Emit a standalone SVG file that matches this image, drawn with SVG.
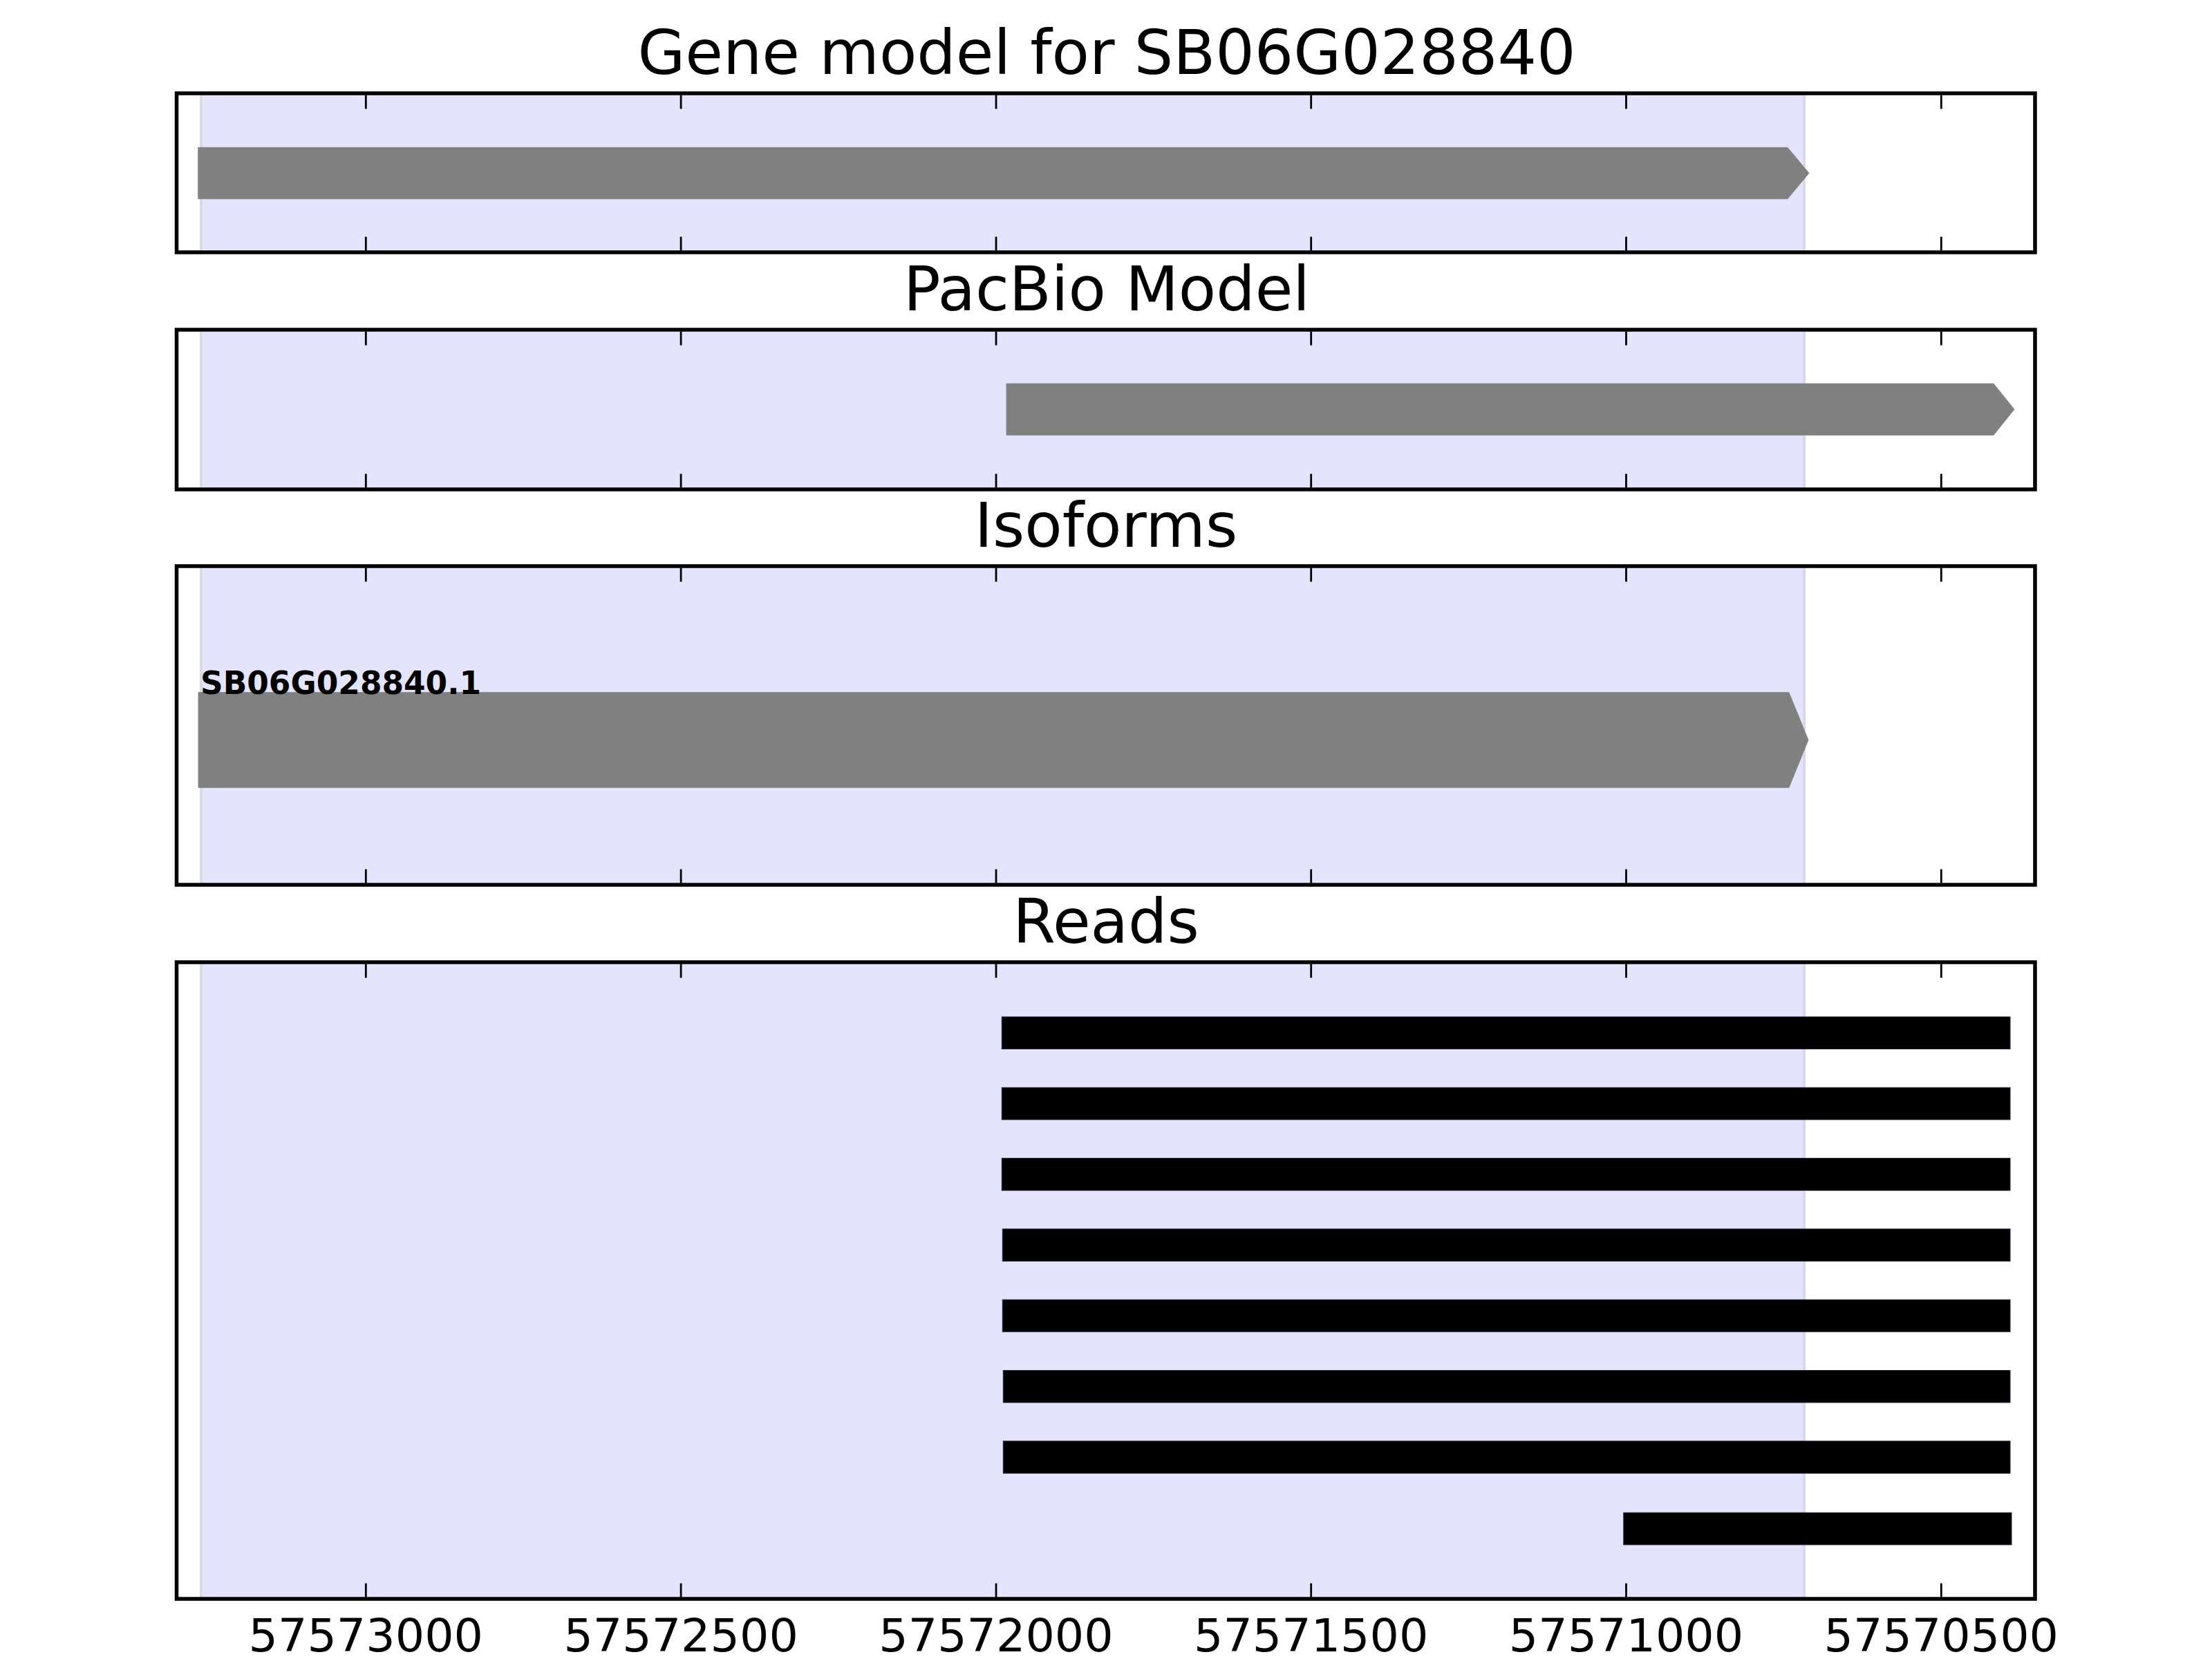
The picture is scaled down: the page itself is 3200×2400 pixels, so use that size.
<svg xmlns="http://www.w3.org/2000/svg" width="3200" height="2400" viewBox="0 0 3200 2400">
<style>
.frame{fill:none;stroke:#000;stroke-width:5.5}
.span{fill:#e4e4fd;stroke:#d8d8ee;stroke-width:4}
.gene{fill:#808080;stroke:#888;stroke-width:1}
.read{fill:#000;stroke:#222236;stroke-width:1}
.tick{stroke:#000;stroke-width:2.8}
.title{font-family:"DejaVu Sans",sans-serif;font-size:88.9px;text-anchor:middle;fill:#000}
.tl{font-family:"DejaVu Sans",sans-serif;font-size:66.7px;text-anchor:middle;fill:#000}
.lbl{font-family:"DejaVu Sans",sans-serif;font-size:45.4px;font-weight:bold;fill:#000}
</style>
<defs>
<g id="ticks">
<line class="tick" x1="529.3" y1="0" x2="529.3" y2="20"/>
<line class="tick" x1="985.1" y1="0" x2="985.1" y2="20"/>
<line class="tick" x1="1441" y1="0" x2="1441" y2="20"/>
<line class="tick" x1="1896.7" y1="0" x2="1896.7" y2="20"/>
<line class="tick" x1="2352.5" y1="0" x2="2352.5" y2="20"/>
<line class="tick" x1="2808.3" y1="0" x2="2808.3" y2="20"/>
</g>
</defs>
<rect width="3200" height="2400" fill="#fff"/>

<g id="panel-gene-model">
<text class="title" x="1601" y="107">Gene model for SB06G028840</text>
<rect class="span" x="291" y="135" width="2319" height="230"/>
<polygon class="gene" points="286.7,213.3 2586,213.3 2617,250.5 2586,287.7 286.7,287.7"/>
<use href="#ticks" transform="translate(0,137.5)"/>
<use href="#ticks" transform="translate(0,362.5) scale(1,-1)"/>
<rect class="frame" x="255.5" y="135" width="2688.5" height="230"/>
</g>

<g id="panel-pacbio">
<text class="title" x="1601" y="449">PacBio Model</text>
<rect class="span" x="291" y="477" width="2319" height="231"/>
<polygon class="gene" points="1456,555 2884,555 2914,592.2 2884,629.5 1456,629.5"/>
<use href="#ticks" transform="translate(0,479.5)"/>
<use href="#ticks" transform="translate(0,705.5) scale(1,-1)"/>
<rect class="frame" x="255.5" y="477" width="2688.5" height="231"/>
</g>

<g id="panel-isoforms">
<text class="title" x="1600" y="791">Isoforms</text>
<rect class="span" x="291" y="819" width="2319" height="461"/>
<polygon class="gene" points="287,1001.7 2588,1001.7 2616,1070.5 2588,1139.3 287,1139.3"/>
<text class="lbl" x="290" y="1004">SB06G028840.1</text>
<use href="#ticks" transform="translate(0,821.5)"/>
<use href="#ticks" transform="translate(0,1277.5) scale(1,-1)"/>
<rect class="frame" x="255.5" y="819" width="2688.5" height="461"/>
</g>

<g id="panel-reads">
<text class="title" x="1600" y="1364">Reads</text>
<rect class="span" x="291" y="1392" width="2319" height="921"/>
<g id="reads">
<rect class="read" x="1449.3" y="1471" width="1458.7" height="46.5"/>
<rect class="read" x="1449.3" y="1573.3" width="1458.7" height="46.5"/>
<rect class="read" x="1449.3" y="1675.6" width="1458.7" height="46.5"/>
<rect class="read" x="1450.3" y="1777.9" width="1457.7" height="46.5"/>
<rect class="read" x="1450.3" y="1880.2" width="1457.7" height="46.5"/>
<rect class="read" x="1451.3" y="1982.5" width="1456.7" height="46.5"/>
<rect class="read" x="1451.3" y="2084.8" width="1456.7" height="46.5"/>
<rect class="read" x="2348.8" y="2188.3" width="561.2" height="46.5"/>
</g>
<use href="#ticks" transform="translate(0,1394.5)"/>
<use href="#ticks" transform="translate(0,2310.5) scale(1,-1)"/>
<rect class="frame" x="255.5" y="1392" width="2688.5" height="921"/>
<text class="tl" x="529.3" y="2389">57573000</text>
<text class="tl" x="985.1" y="2389">57572500</text>
<text class="tl" x="1441" y="2389">57572000</text>
<text class="tl" x="1896.7" y="2389">57571500</text>
<text class="tl" x="2352.5" y="2389">57571000</text>
<text class="tl" x="2808.3" y="2389">57570500</text>
</g>
</svg>
